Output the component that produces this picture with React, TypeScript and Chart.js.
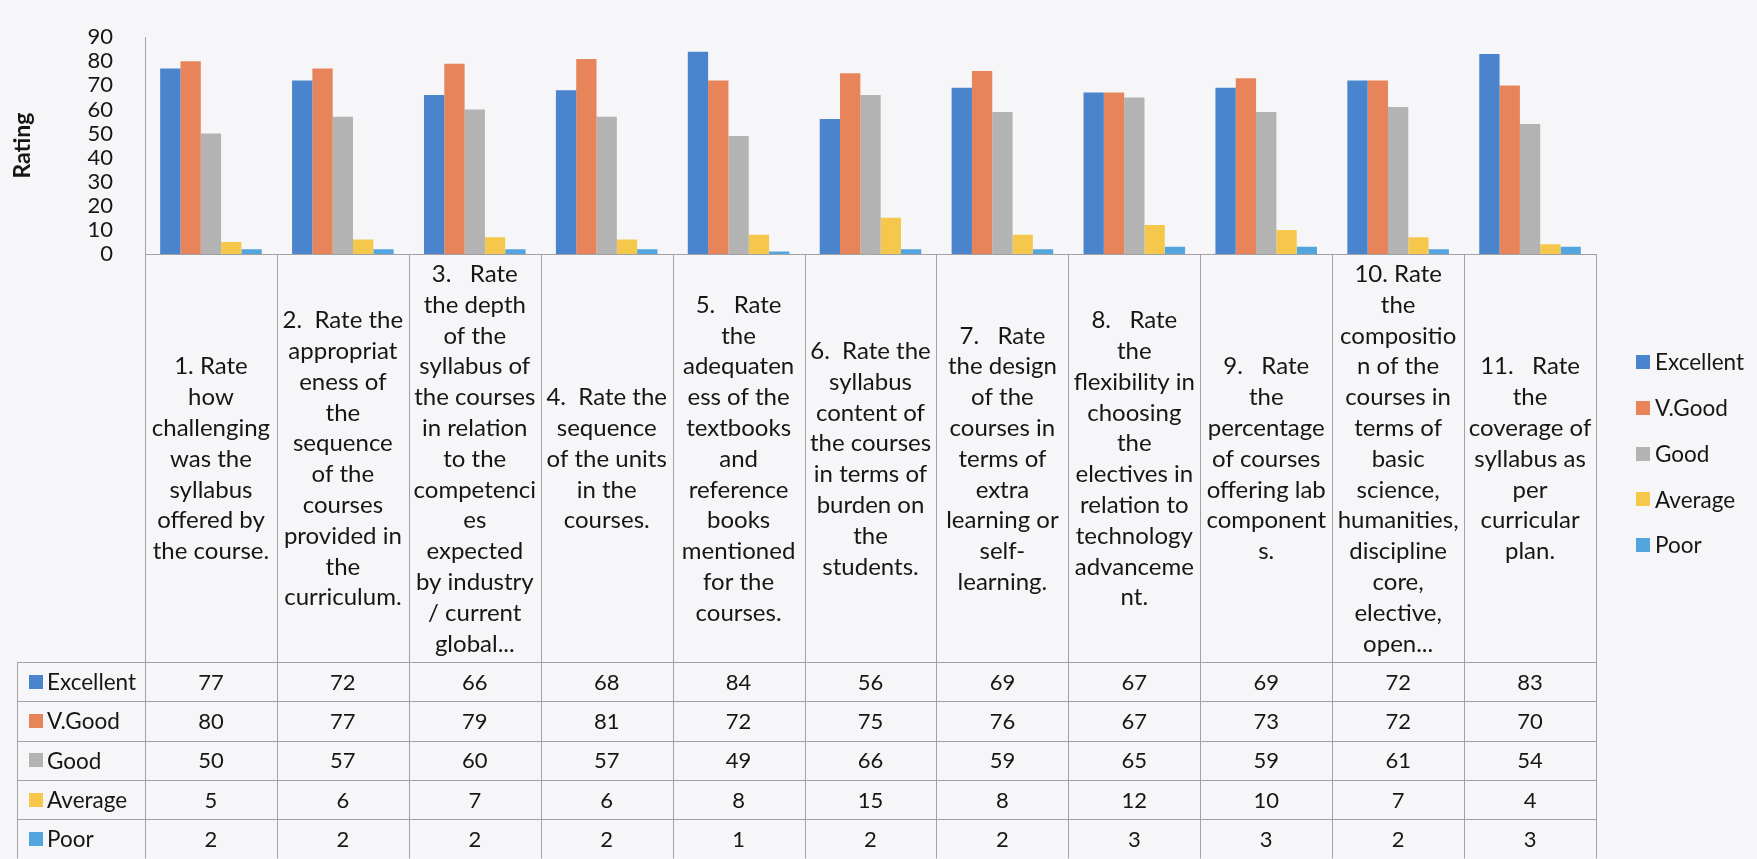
import React, { useEffect, useRef } from "react";
import { Chart, registerables } from "chart.js";

Chart.register(...registerables);

// ---------- data ----------
const categories: string[][] = [
  ["1. Rate", "how", "challenging", "was the", "syllabus", "offered by", "the course."],
  ["2.  Rate the", "appropriat", "eness of", "the", "sequence", "of the", "courses", "provided in", "the", "curriculum."],
  ["3.   Rate", "the depth", "of the", "syllabus of", "the courses", "in relation", "to the", "competenci", "es", "expected", "by industry", "/ current", "global..."],
  ["4.  Rate the", "sequence", "of the units", "in the", "courses."],
  ["5.   Rate", "the", "adequaten", "ess of the", "textbooks", "and", "reference", "books", "mentioned", "for the", "courses."],
  ["6.  Rate the", "syllabus", "content of", "the courses", "in terms of", "burden on", "the", "students."],
  ["7.   Rate", "the design", "of the", "courses in", "terms of", "extra", "learning or", "self-", "learning."],
  ["8.   Rate", "the", "flexibility in", "choosing", "the", "electives in", "relation to", "technology", "advanceme", "nt."],
  ["9.   Rate", "the", "percentage", "of courses", "offering lab", "component", "s."],
  ["10. Rate", "the", "compositio", "n of the", "courses in", "terms of", "basic", "science,", "humanities,", "discipline", "core,", "elective,", "open..."],
  ["11.   Rate", "the", "coverage of", "syllabus as", "per", "curricular", "plan."],
];

const seriesNames = ["Excellent", "V.Good", "Good", "Average", "Poor"];
const excellent = [77, 72, 66, 68, 84, 56, 69, 67, 69, 72, 83];
const vGood = [80, 77, 79, 81, 72, 75, 76, 67, 73, 72, 70];
const good = [50, 57, 60, 57, 49, 66, 59, 65, 59, 61, 54];
const average = [5, 6, 7, 6, 8, 15, 8, 12, 10, 7, 4];
const poor = [2, 2, 2, 2, 1, 2, 2, 3, 3, 2, 3];

const yMin = 0;
const yMax = 90;
const yStep = 10;
const yTitle = "Rating";

// ---------- styles ----------
const seriesColors = ["#4a84cc", "#e8845a", "#b3b3b3", "#f5c84c", "#52a5de"];
const FONT = "Lato, 'Noto Sans', sans-serif";
const TEXT = "#161616";
const LINE = "#a2a2a4";
const PAPER = "#f6f6f9";
const HEADER_BOTTOM = 662;
const ROW_H = 39.3;
const TABLE_LEFT = 17;
const LABEL_LINE_H = 30.8;
const LEGEND_X = 1636;
const LEGEND_Y0 = 362;
const LEGEND_STEP = 45.8;

const px = (v: number) => Math.round(v) + 0.5;

const tablePlugin = {
  id: "tablePlugin",
  beforeDraw(chart: any) {
    const { ctx, width, height } = chart;
    ctx.save();
    ctx.fillStyle = PAPER;
    ctx.fillRect(0, 0, width, height);
    ctx.restore();
  },
  afterDraw(chart: any) {
    const ctx: CanvasRenderingContext2D = chart.ctx;
    const area = chart.chartArea;
    const xs = chart.scales.x;
    const labels: string[][] = chart.data.labels;
    const n = labels.length;
    const colW = (area.right - area.left) / n;
    const nRows = chart.data.datasets.length;
    const tableBottom = HEADER_BOTTOM + nRows * ROW_H;

    ctx.save();
    ctx.strokeStyle = LINE;
    ctx.lineWidth = 1;
    const line = (x1: number, y1: number, x2: number, y2: number) => {
      ctx.beginPath();
      ctx.moveTo(x1, y1);
      ctx.lineTo(x2, y2);
      ctx.stroke();
    };
    // axis lines
    line(px(area.left), area.top, px(area.left), tableBottom);
    line(area.left, px(area.bottom), area.right, px(area.bottom));
    // column separators
    for (let i = 0; i < n; i++) {
      const xb = px(xs.getPixelForValue(i) + colW / 2);
      line(xb, area.bottom, xb, tableBottom);
    }
    // data table rows
    for (let r = 0; r <= nRows; r++) {
      const y = px(HEADER_BOTTOM + r * ROW_H);
      line(TABLE_LEFT, y, area.right, y);
    }
    line(px(TABLE_LEFT), HEADER_BOTTOM, px(TABLE_LEFT), tableBottom);

    // category labels
    ctx.fillStyle = TEXT;
    ctx.font = `24px ${FONT}`;
    ctx.textAlign = "center";
    ctx.textBaseline = "middle";
    const midY = (area.bottom + HEADER_BOTTOM) / 2;
    for (let i = 0; i < n; i++) {
      const cx = xs.getPixelForValue(i);
      const lines = labels[i];
      const y0 = midY - ((lines.length - 1) * LABEL_LINE_H) / 2;
      lines.forEach((t, k) => ctx.fillText(t, cx, y0 + k * LABEL_LINE_H + 1));
    }

    // data table values and row headers
    chart.data.datasets.forEach((ds: any, r: number) => {
      const cy = HEADER_BOTTOM + (r + 0.5) * ROW_H;
      ctx.fillStyle = ds.backgroundColor;
      ctx.fillRect(29, Math.round(cy - 7), 14, 14);
      ctx.fillStyle = TEXT;
      ctx.textAlign = "left";
      ctx.font = `22.5px ${FONT}`;
      ctx.fillText(ds.label, 47, cy + 1);
      ctx.textAlign = "center";
      ctx.font = `22px ${FONT}`;
      ds.data.forEach((v: number, i: number) => {
        ctx.fillText(String(v), xs.getPixelForValue(i), cy + 1);
      });
    });

    // legend
    ctx.font = `22.5px ${FONT}`;
    chart.data.datasets.forEach((ds: any, r: number) => {
      const cy = LEGEND_Y0 + r * LEGEND_STEP;
      ctx.fillStyle = ds.backgroundColor;
      ctx.fillRect(LEGEND_X, Math.round(cy - 7), 14, 14);
      ctx.fillStyle = TEXT;
      ctx.textAlign = "left";
      ctx.fillText(ds.label, LEGEND_X + 19, cy + 1);
    });
    ctx.restore();
  },
};

export default function App() {
  const ref = useRef<HTMLCanvasElement | null>(null);

  useEffect(() => {
    if (!ref.current) return;
    const seriesValues = [excellent, vGood, good, average, poor];
    const chart = new Chart(ref.current, {
      type: "bar",
      data: {
        labels: categories,
        datasets: seriesNames.map((name, i) => ({
          label: name,
          data: seriesValues[i],
          backgroundColor: seriesColors[i],
          borderWidth: 0,
          categoryPercentage: 0.77,
          barPercentage: 1.0,
        })),
      },
      options: {
        responsive: false,
        animation: false,
        devicePixelRatio: 1,
        layout: { padding: { left: 0, top: 20, right: 161, bottom: 605 } },
        plugins: {
          legend: { display: false },
          tooltip: { enabled: false },
        },
        scales: {
          x: { display: false },
          y: {
            min: yMin,
            max: yMax,
            grid: { display: false },
            border: { display: false },
            ticks: {
              stepSize: yStep,
              autoSkip: false,
              padding: 24,
              color: TEXT,
              font: { family: FONT, size: 22 },
            },
            title: {
              display: true,
              text: yTitle,
              color: TEXT,
              font: { family: FONT, size: 23, weight: "bold" },
              padding: { top: 9, bottom: 0 },
            },
            afterFit: (s: any) => {
              s.width = 145;
            },
          },
        },
      },
      plugins: [tablePlugin],
    } as any);
    return () => chart.destroy();
  }, []);

  return (
    <div style={{ position: "absolute", left: 0, top: 0, width: 1757, height: 859, background: PAPER }}>
      <canvas ref={ref} width={1757} height={859} style={{ display: "block" }} />
    </div>
  );
}
